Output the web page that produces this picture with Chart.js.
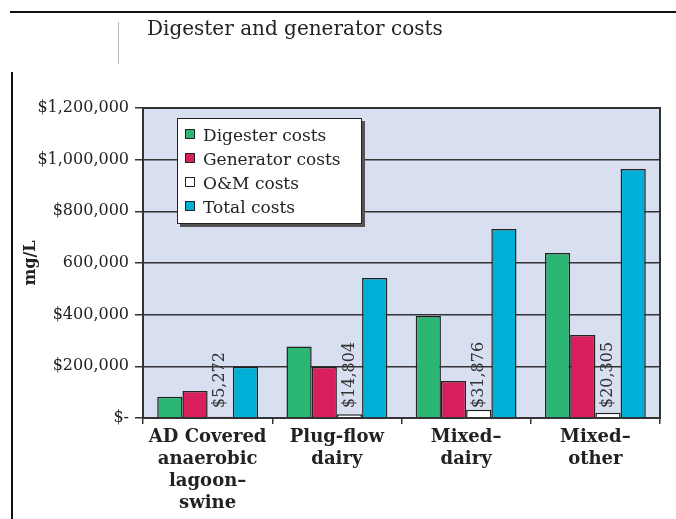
<!DOCTYPE html>
<html>
<head>
<meta charset="utf-8">
<script src="https://cdn.jsdelivr.net/npm/chart.js@4.4.1/dist/chart.umd.min.js"></script>
<style>
    body { margin: 0; background: #fff; }
    #wrap { position: relative; width: 676px; height: 519px; overflow: hidden; }
    #chart { position: absolute; left: 0; top: 0; }
    .rule-top { position: absolute; left: 10px; top: 11px; width: 666px; height: 2px; background: #111; }
    .rule-left { position: absolute; left: 11px; top: 72px; width: 2px; height: 447px; background: #111; }
    .rule-small { position: absolute; left: 118px; top: 22px; width: 1px; height: 42px; background: #bbb; }
    .title { position: absolute; left: 147px; top: 16px; font-family: "DejaVu Serif", serif; font-size: 20px; color: #222; }
    #legend { position: absolute; left: 177px; top: 118px; width: 183px; height: 104px; background: #fff;
              border: 1.5px solid #222; box-shadow: 3px 3px 0 #555; font-family: "DejaVu Serif", serif; font-size: 17px; color: #222; }
    #legend div { position: absolute; left: 7px; height: 22px; line-height: 22px; white-space: nowrap; }
    #legend span { display: inline-block; width: 8px; height: 8px; border: 1.5px solid #222; margin-right: 8px; vertical-align: 2px; }
</style>
</head>
<body>
<div id="wrap">
    <canvas id="chart" width="676" height="519"></canvas>
    <div class="rule-top"></div>
    <div class="rule-left"></div>
    <div class="rule-small"></div>
    <div class="title">Digester and generator costs</div>
    <div id="legend"></div>
</div>
<script>
// 資料
const categories = [
    ['AD Covered', 'anaerobic', 'lagoon–', 'swine'],
    ['Plug-flow', 'dairy'],
    ['Mixed–', 'dairy'],
    ['Mixed–', 'other']
];
const seriesNames = ['Digester costs', 'Generator costs', 'O&M costs', 'Total costs'];
const digesterCosts = [82000, 277000, 395000, 639000];
const generatorCosts = [105000, 197000, 143000, 321000];
const omCosts = [5272, 14804, 31876, 20305];
const totalCosts = [198000, 542000, 732000, 964000];
const yTickLabels = ['$-', '$200,000', '$400,000', '600,000', '$800,000', '$1,000,000', '$1,200,000'];

const colors = ['#2bb673', '#d81e5b', '#ffffff', '#00afd6'];
const serif = '"DejaVu Serif", serif';

// 繪圖區背景與外框
const plotArea = {
    id: 'plotArea',
    beforeDraw(chart) {
        const a = chart.chartArea, ctx = chart.ctx;
        ctx.save();
        ctx.fillStyle = '#d8dff0';
        ctx.fillRect(a.left, a.top, a.right - a.left, a.bottom - a.top);
        ctx.restore();
    },
    afterDraw(chart) {
        const a = chart.chartArea, ctx = chart.ctx;
        ctx.save();
        ctx.strokeStyle = '#333';
        ctx.lineWidth = 2;
        ctx.strokeRect(a.left, a.top, a.right - a.left, a.bottom - a.top);
        ctx.restore();
    }
};

// O&M 直排標籤
const omLabels = {
    id: 'omLabels',
    afterDatasetsDraw(chart) {
        const ctx = chart.ctx;
        const meta = chart.getDatasetMeta(2);
        ctx.save();
        ctx.font = '16px ' + serif;
        ctx.fillStyle = '#333';
        ctx.textAlign = 'left';
        ctx.textBaseline = 'middle';
        meta.data.forEach(function(el, i) {
            ctx.save();
            ctx.translate(el.x, Math.min(el.y, chart.chartArea.bottom - 10));
            ctx.rotate(-Math.PI / 2);
            ctx.fillText('$' + omCosts[i].toLocaleString('en-US'), 0, 0);
            ctx.restore();
        });
        ctx.restore();
    }
};

const seriesData = [digesterCosts, generatorCosts, omCosts, totalCosts];

new Chart(document.getElementById('chart'), {
    type: 'bar',
    data: {
        labels: categories,
        datasets: seriesNames.map(function(name, i) {
            return {
                label: name,
                data: seriesData[i],
                backgroundColor: colors[i],
                borderColor: '#222',
                borderWidth: 1.5,
                categoryPercentage: 0.78,
                barPercentage: 1
            };
        })
    },
    options: {
        responsive: false,
        animation: false,
        layout: { padding: { top: 108, right: 16, left: 21, bottom: 0 } },
        plugins: {
            legend: { display: false },
            tooltip: { enabled: false }
        },
        scales: {
            x: {
                afterFit: function(s) { s.height = 101; },
                grid: { display: true, drawOnChartArea: false, offset: true, tickLength: 6, color: '#333', lineWidth: 1.5 },
                border: { display: false },
                ticks: {
                    color: '#222',
                    padding: 2,
                    font: { family: serif, size: 18, weight: 'bold', lineHeight: '22px' },
                    maxRotation: 0,
                    autoSkip: false
                }
            },
            y: {
                min: 0,
                max: 1200000,
                afterFit: function(s) { s.width = 122; },
                grid: { color: '#333', lineWidth: 1.5, tickLength: 8 },
                border: { display: false },
                title: {
                    display: true,
                    text: 'mg/L',
                    color: '#222',
                    padding: 0,
                    font: { family: serif, size: 16, weight: 'bold' }
                },
                ticks: {
                    stepSize: 200000,
                    color: '#222',
                    padding: 6,
                    font: { family: serif, size: 16 },
                    callback: function(v, i) { return yTickLabels[i]; }
                }
            }
        }
    },
    plugins: [plotArea, omLabels]
});

// 圖例
const legend = document.getElementById('legend');
seriesNames.forEach(function(name, i) {
    const row = document.createElement('div');
    row.style.top = (5 + i * 24) + 'px';
    row.innerHTML = '<span style="background:' + colors[i] + '"></span>' + name.replace('&', '&amp;');
    legend.appendChild(row);
});
</script>
</body>
</html>
